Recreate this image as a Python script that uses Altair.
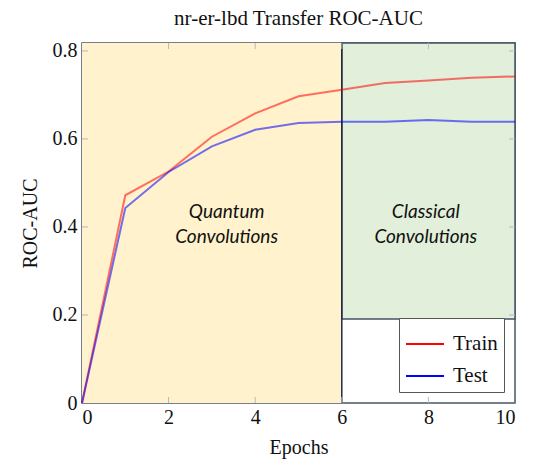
import altair as alt
import pandas as pd

epochs = [0, 1, 2, 3, 4, 5, 6, 7, 8, 9, 10]
train = [0.0, 0.472, 0.526, 0.605, 0.658, 0.697, 0.712, 0.727, 0.733, 0.739, 0.742]
test = [0.0, 0.443, 0.525, 0.583, 0.621, 0.636, 0.639, 0.639, 0.643, 0.639, 0.639]
series_names = ["Train", "Test"]
series_colors = ["#ff0000", "#0000ff"]

x_ticks = [0, 2, 4, 6, 8, 10]
y_ticks = [0, 0.2, 0.4, 0.6, 0.8]
y_top = 0.818
x_max = 10

regions = pd.DataFrame({
    "x": [0, 6], "x2": [6, 10], "y": [0, 0.191], "y2": [y_top, y_top],
    "kind": ["Quantum", "Classical"],
})
annot = pd.DataFrame({
    "x": [3.34, 3.34, 7.94, 7.94],
    "y": [0.435, 0.378, 0.435, 0.378],
    "t": ["Quantum", "Convolutions", "Classical", "Convolutions"],
})

rows = []
for name, vals in zip(series_names, [train, test]):
    for e, v in zip(epochs, vals):
        rows.append({"Epoch": e, "Value": v, "Series": name})
df = pd.DataFrame(rows)

W, H = 433, 360
xs = alt.Scale(domain=[0, x_max], nice=False, zero=False)
ys = alt.Scale(domain=[0, y_top], nice=False, zero=False)

yellow = alt.Chart(regions.iloc[[0]]).mark_rect(fill="#FFF2CC", stroke=None).encode(
    x=alt.X("x:Q", scale=xs), x2="x2", y=alt.Y("y:Q", scale=ys), y2="y2")
green = alt.Chart(regions.iloc[[1]]).mark_rect(fill="#E2EFDA", stroke="#44546A", strokeWidth=1.5).encode(
    x=alt.X("x:Q", scale=xs), x2="x2", y=alt.Y("y:Q", scale=ys), y2="y2")
divider = alt.Chart(pd.DataFrame({"x": [6]})).mark_rule(color="#1F2A44", strokeWidth=1.5).encode(
    x=alt.X("x:Q", scale=xs), y=alt.value(0), y2=alt.value(H))

xt = pd.DataFrame({"x": x_ticks[1:-1]})
yt = pd.DataFrame({"y": y_ticks[1:]})
tick_col = "#B8B8B8"
bt = alt.Chart(xt).mark_rule(color=tick_col).encode(x=alt.X("x:Q", scale=xs), y=alt.value(H), y2=alt.value(H - 6))
tt = alt.Chart(xt).mark_rule(color=tick_col).encode(x=alt.X("x:Q", scale=xs), y=alt.value(0), y2=alt.value(6))
lt = alt.Chart(yt).mark_rule(color=tick_col).encode(y=alt.Y("y:Q", scale=ys), x=alt.value(0), x2=alt.value(6))
rt = alt.Chart(yt).mark_rule(color=tick_col).encode(y=alt.Y("y:Q", scale=ys), x=alt.value(W), x2=alt.value(W - 6))

text = alt.Chart(annot).mark_text(font="Lato", fontStyle="italic", fontSize=19, color="#111111").encode(
    x=alt.X("x:Q", scale=xs), y=alt.Y("y:Q", scale=ys), text="t:N")

serif = "Liberation Serif"
lines = alt.Chart(df).mark_line(strokeWidth=2, opacity=0.55).encode(
    x=alt.X("Epoch:Q", scale=xs,
            axis=alt.Axis(values=x_ticks, title="Epochs", grid=False, ticks=False, domain=False,
                          labelPadding=4, titlePadding=10, format="d",
                          labelFont=serif, labelFontSize=20, labelColor="#111111",
                          titleFont=serif, titleFontSize=20, titleFontWeight="normal", titleColor="#111111")),
    y=alt.Y("Value:Q", scale=ys,
            axis=alt.Axis(values=y_ticks, title="ROC-AUC", grid=False, ticks=False, domain=False,
                          labelPadding=5, titlePadding=12,
                          labelFont=serif, labelFontSize=20, labelColor="#111111",
                          titleFont=serif, titleFontSize=20, titleFontWeight="normal", titleColor="#111111",
                          labelExpr="datum.value == 0 ? '0' : format(datum.value, '.1f')")),
    color=alt.Color("Series:N", scale=alt.Scale(domain=series_names, range=series_colors),
                    legend=alt.Legend(title=None, orient="bottom-right", offset=11,
                                      symbolType="stroke", symbolSize=1444, symbolStrokeWidth=2,
                                      symbolOpacity=1, labelFont=serif, labelFontSize=21,
                                      labelColor="#111111",
                                      fillColor="white", strokeColor="#555555", padding=6,
                                      rowPadding=2, labelOffset=8)),
)

chart = alt.layer(yellow, green, divider, bt, tt, lt, rt, text, lines).properties(
    width=W, height=H,
    title=alt.Title("nr-er-lbd Transfer ROC-AUC", font=serif, fontSize=21,
                    fontWeight="normal", color="#111111", offset=12),
    autosize=alt.AutoSizeParams(type="none"),
    padding={"left": 82, "top": 43, "right": 22, "bottom": 67},
    background="white",
).configure_view(stroke="#4A5568", strokeWidth=1.5)

chart.save("out.html", embed_options={"renderer": "svg", "actions": False})
